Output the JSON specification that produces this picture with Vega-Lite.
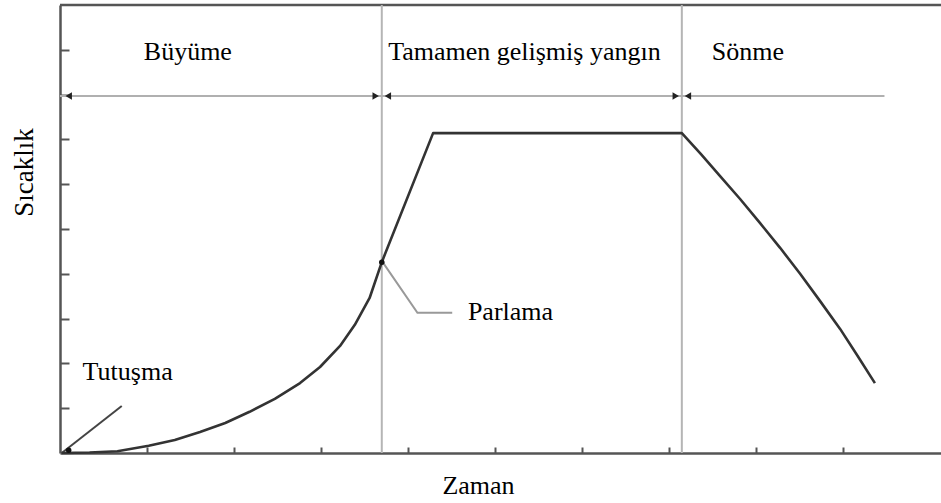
{
  "$schema": "https://vega.github.io/schema/vega-lite/v6.json",
  "width": 881,
  "height": 448,
  "autosize": "none",
  "padding": {"left": 60, "top": 5, "right": 0, "bottom": 50},
  "background": "white",
  "config": {"view": {"stroke": null}},
  "datasets": {
    "curve": [
      {"t": 0.02, "temp": 0},
      {"t": 0.34, "temp": 0.01},
      {"t": 0.66, "temp": 0.04},
      {"t": 1.02, "temp": 0.16},
      {"t": 1.32, "temp": 0.29},
      {"t": 1.61, "temp": 0.47},
      {"t": 1.90, "temp": 0.67},
      {"t": 2.18, "temp": 0.92},
      {"t": 2.47, "temp": 1.21},
      {"t": 2.76, "temp": 1.56},
      {"t": 2.99, "temp": 1.92},
      {"t": 3.22, "temp": 2.39},
      {"t": 3.39, "temp": 2.86},
      {"t": 3.56, "temp": 3.46},
      {"t": 3.70, "temp": 4.26},
      {"t": 4.29, "temp": 7.14},
      {"t": 7.15, "temp": 7.14},
      {"t": 7.37, "temp": 6.67},
      {"t": 7.59, "temp": 6.18},
      {"t": 7.82, "temp": 5.67},
      {"t": 8.05, "temp": 5.13},
      {"t": 8.28, "temp": 4.58},
      {"t": 8.51, "temp": 4.00},
      {"t": 8.74, "temp": 3.39},
      {"t": 8.97, "temp": 2.77},
      {"t": 9.17, "temp": 2.17},
      {"t": 9.37, "temp": 1.56}
    ],
    "phaseBounds": [{"t": 3.70}, {"t": 7.15}],
    "phaseArrow": [{"x0": 0, "x1": 9.48, "y": 7.97}],
    "topEdge": [{"x0": 0, "x1": 10.13, "y": 10}],
    "arrowHeads": [
      {"t": 0.1, "y": 7.97, "dir": "triangle-left"},
      {"t": 3.63, "y": 7.97, "dir": "triangle-right"},
      {"t": 3.77, "y": 7.97, "dir": "triangle-left"},
      {"t": 7.08, "y": 7.97, "dir": "triangle-right"},
      {"t": 7.22, "y": 7.97, "dir": "triangle-left"}
    ],
    "ignitionLeader": [
      {"t": 0.02, "temp": 0, "k": 0},
      {"t": 0.71, "temp": 1.05, "k": 1}
    ],
    "flashoverLeader": [
      {"t": 3.71, "temp": 4.26, "k": 0},
      {"t": 4.11, "temp": 3.13, "k": 1},
      {"t": 4.51, "temp": 3.13, "k": 2}
    ],
    "keyPoints": [
      {"t": 0.1, "temp": 0.06},
      {"t": 3.70, "temp": 4.26}
    ],
    "phaseLabels": [
      {"t": 1.47, "temp": 8.77, "label": "Büyüme"},
      {"t": 5.34, "temp": 8.77, "label": "Tamamen gelişmiş yangın"},
      {"t": 7.91, "temp": 8.77, "label": "Sönme"}
    ],
    "eventLabels": [
      {"t": 4.69, "temp": 2.97, "label": "Parlama"},
      {"t": 0.26, "temp": 1.63, "label": "Tutuşma"}
    ]
  },
  "layer": [
    {
      "data": {"name": "topEdge"},
      "mark": {"type": "rule", "color": "#555", "strokeWidth": 2.5},
      "encoding": {
        "x": {"field": "x0", "type": "quantitative", "scale": {"domain": [0, 10.13], "nice": false, "zero": false},
          "axis": {
            "title": "Zaman", "titleFont": "Liberation Serif", "titleFontSize": 26, "titleFontWeight": "normal",
            "titleColor": "#000", "titleX": 418, "titleY": 40, "titleBaseline": "alphabetic", "titleAlign": "center",
            "values": [1, 2, 3, 4, 5, 6, 7, 8, 9], "labels": false, "grid": false,
            "domainColor": "#555", "domainWidth": 2.5, "tickColor": "#555", "tickWidth": 2, "tickSize": -6
          }},
        "x2": {"field": "x1"},
        "y": {"field": "y", "type": "quantitative", "scale": {"domain": [0, 10], "nice": false},
          "axis": {
            "title": "Sıcaklık", "titleFont": "Liberation Serif", "titleFontSize": 27, "titleFontWeight": "normal",
            "titleColor": "#000", "titleX": -28, "titleY": 167, "titleBaseline": "alphabetic", "titleAlign": "center", "titleAngle": -90,
            "values": [1, 2, 3, 4, 5, 6, 7, 8, 9], "labels": false, "grid": false,
            "domainColor": "#555", "domainWidth": 2.5, "tickColor": "#555", "tickWidth": 2, "tickSize": -9
          }}
      }
    },
    {
      "data": {"name": "phaseBounds"},
      "mark": {"type": "rule", "color": "#b5b5b5", "strokeWidth": 2},
      "encoding": {"x": {"field": "t", "type": "quantitative"}}
    },
    {
      "data": {"name": "phaseArrow"},
      "mark": {"type": "rule", "color": "#b0b0b0", "strokeWidth": 2},
      "encoding": {
        "x": {"field": "x0", "type": "quantitative"},
        "x2": {"field": "x1"},
        "y": {"field": "y", "type": "quantitative"}
      }
    },
    {
      "data": {"name": "arrowHeads"},
      "mark": {"type": "point", "filled": true, "color": "#222", "size": 55, "opacity": 1},
      "encoding": {
        "x": {"field": "t", "type": "quantitative"},
        "y": {"field": "y", "type": "quantitative"},
        "shape": {"field": "dir", "type": "nominal", "scale": null, "legend": null}
      }
    },
    {
      "data": {"name": "flashoverLeader"},
      "mark": {"type": "line", "color": "#999", "strokeWidth": 2},
      "encoding": {
        "x": {"field": "t", "type": "quantitative"},
        "y": {"field": "temp", "type": "quantitative"},
        "order": {"field": "k"}
      }
    },
    {
      "data": {"name": "ignitionLeader"},
      "mark": {"type": "line", "color": "#444", "strokeWidth": 2},
      "encoding": {
        "x": {"field": "t", "type": "quantitative"},
        "y": {"field": "temp", "type": "quantitative"},
        "order": {"field": "k"}
      }
    },
    {
      "data": {"name": "curve"},
      "mark": {"type": "line", "color": "#333", "strokeWidth": 2.6, "interpolate": "linear", "strokeJoin": "round"},
      "encoding": {
        "x": {"field": "t", "type": "quantitative"},
        "y": {"field": "temp", "type": "quantitative"}
      }
    },
    {
      "data": {"name": "keyPoints"},
      "mark": {"type": "point", "filled": true, "color": "#111", "size": 30, "opacity": 1},
      "encoding": {
        "x": {"field": "t", "type": "quantitative"},
        "y": {"field": "temp", "type": "quantitative"}
      }
    },
    {
      "data": {"name": "phaseLabels"},
      "mark": {"type": "text", "font": "Liberation Serif", "fontSize": 26, "color": "#000", "align": "center", "baseline": "alphabetic"},
      "encoding": {
        "x": {"field": "t", "type": "quantitative"},
        "y": {"field": "temp", "type": "quantitative"},
        "text": {"field": "label"}
      }
    },
    {
      "data": {"name": "eventLabels"},
      "mark": {"type": "text", "font": "Liberation Serif", "fontSize": 26, "color": "#000", "align": "left", "baseline": "alphabetic"},
      "encoding": {
        "x": {"field": "t", "type": "quantitative"},
        "y": {"field": "temp", "type": "quantitative"},
        "text": {"field": "label"}
      }
    }
  ]
}
